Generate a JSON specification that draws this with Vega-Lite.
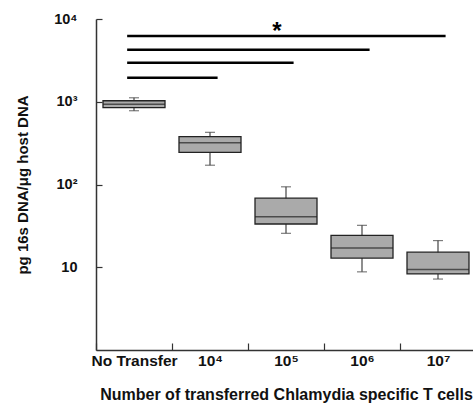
{
  "$schema": "https://vega.github.io/schema/vega-lite/v6.json",
  "autosize": "none",
  "padding": {"left": 96, "top": 19, "right": 0, "bottom": 54},
  "width": 380,
  "height": 331,
  "background": "white",
  "config": {
    "font": "Liberation Sans",
    "view": {"stroke": null},
    "axis": {"grid": false, "domainColor": "#333", "domainWidth": 1.5, "tickColor": "#333", "tickWidth": 1.2, "labelColor": "#111", "titleColor": "#111", "labelFont": "Liberation Sans", "titleFont": "Liberation Sans", "labelFontWeight": "bold", "titleFontWeight": "bold", "labelFontSize": 13, "titleFontSize": 13}
  },
  "datasets": {
    "boxes": [
      {"group": "No Transfer", "min": 779, "q1": 847, "median": 933, "q3": 1028, "max": 1117},
      {"group": "10\u2074", "min": 171, "q1": 245, "median": 320, "q3": 378, "max": 427},
      {"group": "10\u2075", "min": 25.7, "q1": 33.3, "median": 40.8, "q3": 68.4, "max": 93.8},
      {"group": "10\u2076", "min": 8.8, "q1": 12.9, "median": 17.1, "q3": 24.3, "max": 32.1},
      {"group": "10\u2077", "min": 7.2, "q1": 8.3, "median": 9.4, "q3": 15.2, "max": 21.0}
    ],
    "sig": [
      {"from": "No Transfer", "to": "10\u2077", "y": 6237},
      {"from": "No Transfer", "to": "10\u2076", "y": 4238},
      {"from": "No Transfer", "to": "10\u2075", "y": 2953},
      {"from": "No Transfer", "to": "10\u2074", "y": 1947}
    ],
    "star": [
      {"group": "10\u2075", "y": 5800, "label": "*"}
    ]
  },
  "encoding": {
    "x": {
      "field": "group", "type": "nominal",
      "sort": ["No Transfer", "10\u2074", "10\u2075", "10\u2076", "10\u2077"],
      "scale": {"domain": ["No Transfer", "10\u2074", "10\u2075", "10\u2076", "10\u2077"], "paddingInner": 0, "paddingOuter": 0},
      "axis": {"labelAngle": 0, "tickBand": "extent", "tickSize": -7, "labelPadding": 10, "title": "Number of transferred Chlamydia specific T cells", "titlePadding": 18, "labelFontSize": 15.5, "titleFontSize": 16}
    }
  },
  "layer": [
    {
      "data": {"name": "boxes"},
      "mark": {"type": "rule", "color": "#444", "strokeWidth": 1.2},
      "encoding": {
        "y": {"field": "min", "type": "quantitative",
          "scale": {"type": "log", "domain": [1, 10000], "nice": false},
          "axis": {"values": [10, 100, 1000, 10000], "tickSize": -6, "labelPadding": 25, "labelFontSize": 14.5, "titleFontSize": 15,
            "labelExpr": "datum.value == 10000 ? '10\u2074' : datum.value == 1000 ? '10\u00b3' : datum.value == 100 ? '10\u00b2' : '10'",
            "title": "pg 16s DNA/\u03bcg host DNA", "titlePadding": 23}},
        "y2": {"field": "max"}
      }
    },
    {
      "data": {"name": "boxes"},
      "mark": {"type": "tick", "color": "#444", "size": 10, "thickness": 1.2},
      "encoding": {"y": {"field": "min", "type": "quantitative"}}
    },
    {
      "data": {"name": "boxes"},
      "mark": {"type": "tick", "color": "#444", "size": 10, "thickness": 1.2},
      "encoding": {"y": {"field": "max", "type": "quantitative"}}
    },
    {
      "data": {"name": "boxes"},
      "mark": {"type": "bar", "size": 62, "fill": "#aaaaaa", "stroke": "#222", "strokeWidth": 1.3},
      "encoding": {"y": {"field": "q1", "type": "quantitative"}, "y2": {"field": "q3"}}
    },
    {
      "data": {"name": "boxes"},
      "mark": {"type": "tick", "color": "#222", "size": 62, "thickness": 1.5},
      "encoding": {"y": {"field": "median", "type": "quantitative"}}
    },
    {
      "data": {"name": "sig"},
      "mark": {"type": "rule", "color": "#000", "strokeWidth": 2.5},
      "encoding": {
        "x": {"field": "from", "type": "nominal", "bandPosition": 0.41},
        "x2": {"field": "to", "bandPosition": 0.6},
        "y": {"field": "y", "type": "quantitative"}
      }
    },
    {
      "data": {"name": "star"},
      "mark": {"type": "text", "fontSize": 24, "fontWeight": "bold", "dx": -9, "baseline": "alphabetic", "color": "#000"},
      "encoding": {
        "y": {"field": "y", "type": "quantitative"},
        "text": {"field": "label"}
      }
    }
  ]
}
